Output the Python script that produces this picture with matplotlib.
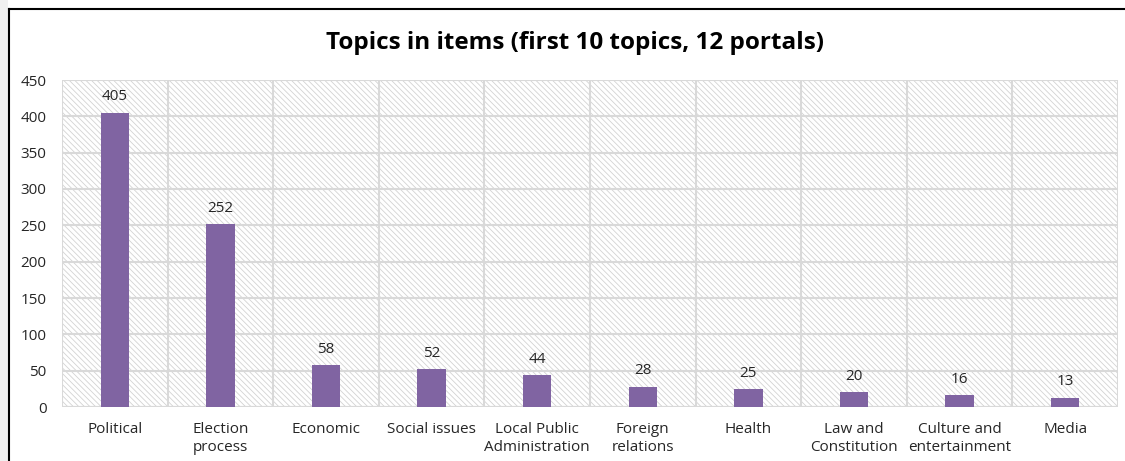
import matplotlib.pyplot as plt
from matplotlib.patches import Rectangle

topics = ["Political", "Election\nprocess", "Economic", "Social issues",
          "Local Public\nAdministration", "Foreign\nrelations", "Health",
          "Law and\nConstitution", "Culture and\nentertainment", "Media"]
counts = [405, 252, 58, 52, 44, 28, 25, 20, 16, 13]

plt.rcParams['font.family'] = ['Open Sans', 'DejaVu Sans']
plt.rcParams['hatch.linewidth'] = 0.6

fig = plt.figure(figsize=(11.25, 4.61), dpi=100)
fig.patch.set_facecolor('white')

# grey strip on the left and the black frame
fig.patches.append(Rectangle((0, 0), 8 / 1125, 1, transform=fig.transFigure,
                             facecolor='#f0f0f0', edgecolor='none', zorder=0))
fig.add_artist(plt.Line2D([8.5 / 1125, 8.5 / 1125], [0, 1 - 9 / 461],
                          transform=fig.transFigure, color='black', lw=1.5))
fig.add_artist(plt.Line2D([8.5 / 1125, 1], [1 - 9 / 461, 1 - 9 / 461],
                          transform=fig.transFigure, color='black', lw=1.5))

ax = fig.add_axes([62 / 1125, 1 - 407 / 461, (1118 - 62) / 1125, (407 - 80) / 461])
ax.set_facecolor('white')
bg = Rectangle((0, 0), 1, 1, transform=ax.transAxes, facecolor='white',
               edgecolor='#d3d3d3', linewidth=0, hatch='\\\\\\\\\\\\', zorder=0.5)
ax.add_patch(bg)

x = range(len(topics))
ax.bar(x, counts, width=0.27, color='#8064a2', zorder=3)
for i, v in enumerate(counts):
    ax.annotate(str(v), (i, v), xytext=(0, 6), textcoords='offset points',
                ha='center', va='bottom', fontsize=11, color='#262626', zorder=4)

ax.set_xlim(-0.5, len(topics) - 0.5)
ax.set_ylim(0, 450)
ax.set_yticks(range(0, 451, 50))
ax.set_xticks(list(x))
ax.set_xticklabels(topics, fontsize=11, color='#262626', linespacing=1.25)
ax.tick_params(axis='y', labelsize=11, colors='#262626', length=0, pad=11)
ax.tick_params(axis='x', length=0, pad=11)

for b in [i - 0.5 for i in range(len(topics) + 1)]:
    ax.axvline(b, color='#d9d9d9', lw=1.5, zorder=1)
ax.yaxis.grid(True, color='#d9d9d9', lw=1.5, zorder=1)
for s in ax.spines.values():
    s.set_visible(False)
ax.axhline(0, color='#d9d9d9', lw=1.5, zorder=2)

fig.text(575 / 1125, 1 - 43 / 461, "Topics in items (first 10 topics, 12 portals)",
         ha='center', va='center', fontsize=17.5, fontweight='bold', color='black')

fig.savefig('out.png', dpi=100)
